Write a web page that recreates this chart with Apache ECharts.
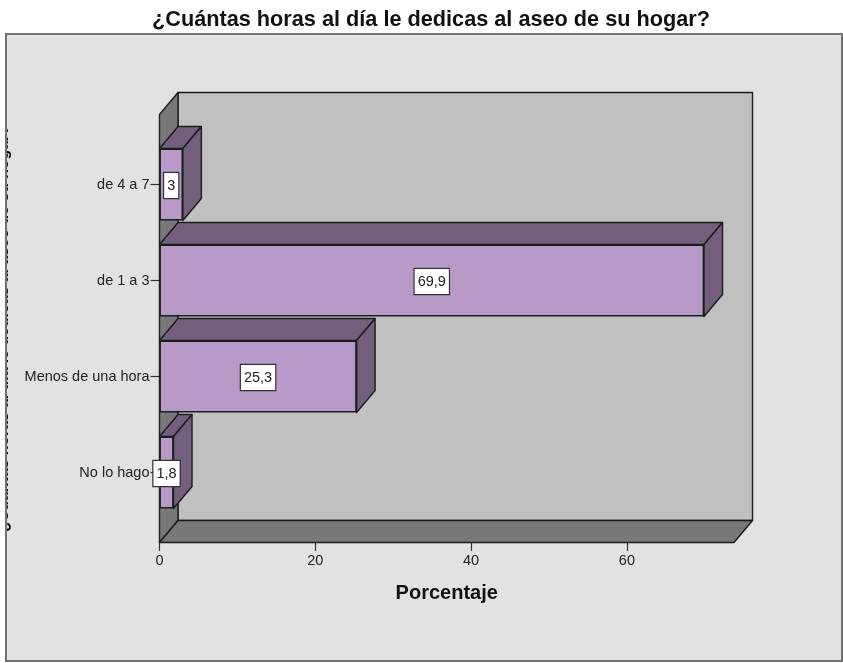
<!DOCTYPE html>
<html>
<head>
<meta charset="utf-8">
<style>html,body{margin:0;padding:0;background:#fff}#c{width:843px;height:663px}</style>
<script src="https://cdn.jsdelivr.net/npm/echarts@6/dist/echarts.min.js"></script>
</head>
<body>
<div id="c"></div>
<script>
const categories = ["No lo hago", "Menos de una hora", "de 1 a 3", "de 4 a 7"];
const percentages = [1.8, 25.3, 69.9, 3];
const xTicks = [0, 20, 40, 60];
const titleText = "¿Cuántas horas al día le dedicas al aseo de su hogar?";
const xName = "Porcentaje";

const DX = 18.5, DY = 22, XMAX = 73.75;
const FRONT = "#b89ac9", SHADE = "#735f7b", WALL = "#787878", BACK = "#c0c0c0", EDGE = "#1c1c1c";
const FONT = "Liberation Sans";

function poly(points, fill) {
  return { type: "polygon", shape: { points }, style: { fill, stroke: EDGE, lineWidth: 1.4, lineJoin: "round" } };
}
function renderWalls(params, api) {
  const g = params.coordSys;
  const l = api.coord([0, 0])[0], r = api.coord([XMAX, 0])[0];
  const t = g.y, b = g.y + g.height;
  return { type: "group", children: [
    poly([[l + DX, t - DY - 22], [r + DX, t - DY - 22], [r + DX, b], [l + DX, b]], BACK),
    poly([[l, t - 22], [l + DX, t - DY - 22], [l + DX, b], [l, b + DY]], WALL),
    poly([[l, b + DY], [l + DX, b], [r + DX, b], [r, b + DY]], WALL)
  ]};
}
function renderDepth(params, api) {
  const end = api.coord([api.value(0), api.value(1)]);
  const l = api.coord([0, api.value(1)])[0];
  const h = api.size([0, 1])[1] * 0.75;
  const top = end[1] - h / 2, bot = end[1] + h / 2, x = end[0];
  return { type: "group", children: [
    poly([[l, top], [x, top], [x + DX, top - DY], [l + DX, top - DY]], SHADE),
    poly([[x, top], [x + DX, top - DY], [x + DX, bot - DY], [x, bot]], SHADE)
  ]};
}

const chart = echarts.init(document.getElementById("c"), null, { renderer: "canvas" });
chart.setOption({
  animation: false,
  backgroundColor: "#fff",
  title: {
    text: titleText, left: 426, top: 4, textAlign: "center",
    textStyle: { fontFamily: FONT, fontWeight: "bold", fontSize: 21.7, color: "#111" }
  },
  grid: { left: 159.5, top: 136.5, width: 574.5, height: 384, outerBoundsMode: "none", containLabel: false },
  xAxis: {
    type: "value", min: 0, max: XMAX, offset: 21.5,
    splitLine: { show: false }, axisLine: { show: false },
    axisTick: { show: true, length: 9, customValues: xTicks, lineStyle: { color: "#333", width: 1.2 } },
    axisLabel: { customValues: xTicks, margin: 11, color: "#222", fontFamily: FONT, fontSize: 14.5 },
    name: xName, nameLocation: "middle", nameGap: 41,
    nameTextStyle: { fontFamily: FONT, fontWeight: "bold", fontSize: 20, color: "#111" }
  },
  yAxis: {
    type: "category", data: categories,
    axisLine: { show: false },
    axisTick: { show: true, length: 9, alignWithLabel: true, lineStyle: { color: "#333", width: 1.2 } },
    axisLabel: { margin: 10, color: "#222", fontFamily: FONT, fontSize: 14.5 },
    name: titleText, nameLocation: "middle", nameRotate: 90, nameGap: 148,
    nameTextStyle: { fontFamily: FONT, fontWeight: "bold", fontSize: 15.8, color: "#000" }
  },
  series: [
    { type: "custom", z: 1, renderItem: renderWalls, data: [[0, 0]], encode: { x: 0, y: 1 }, silent: true },
    { type: "custom", z: 2, renderItem: renderDepth,
      data: percentages.map((v, i) => [v, i]), encode: { x: 0, y: 1 }, silent: true },
    { type: "bar", z: 3, data: percentages, barWidth: "75%",
      itemStyle: { color: FRONT, borderColor: EDGE, borderWidth: 1.4 },
      label: {
        show: true, position: "inside", color: "#222", fontFamily: FONT, fontSize: 14.5,
        offset: [0, 1],
        formatter: p => String(p.value).replace(".", ","),
        backgroundColor: "#fff", borderColor: "#333", borderWidth: 1.2,
        padding: [5, 3, 5, 3]
      }
    }
  ],
  graphic: [
    { type: "rect", z: -10, silent: true, shape: { x: 6, y: 34, width: 836, height: 627 }, style: { fill: "#e2e2e2" } },
    { type: "rect", z: 100, silent: true, shape: { x: 0, y: 0, width: 5, height: 663 }, style: { fill: "#fff" } },
    { type: "rect", z: 101, silent: true, shape: { x: 6, y: 34, width: 836, height: 627 }, style: { fill: "none", stroke: "#707070", lineWidth: 2 } }
  ]
});
</script>
</body>
</html>
